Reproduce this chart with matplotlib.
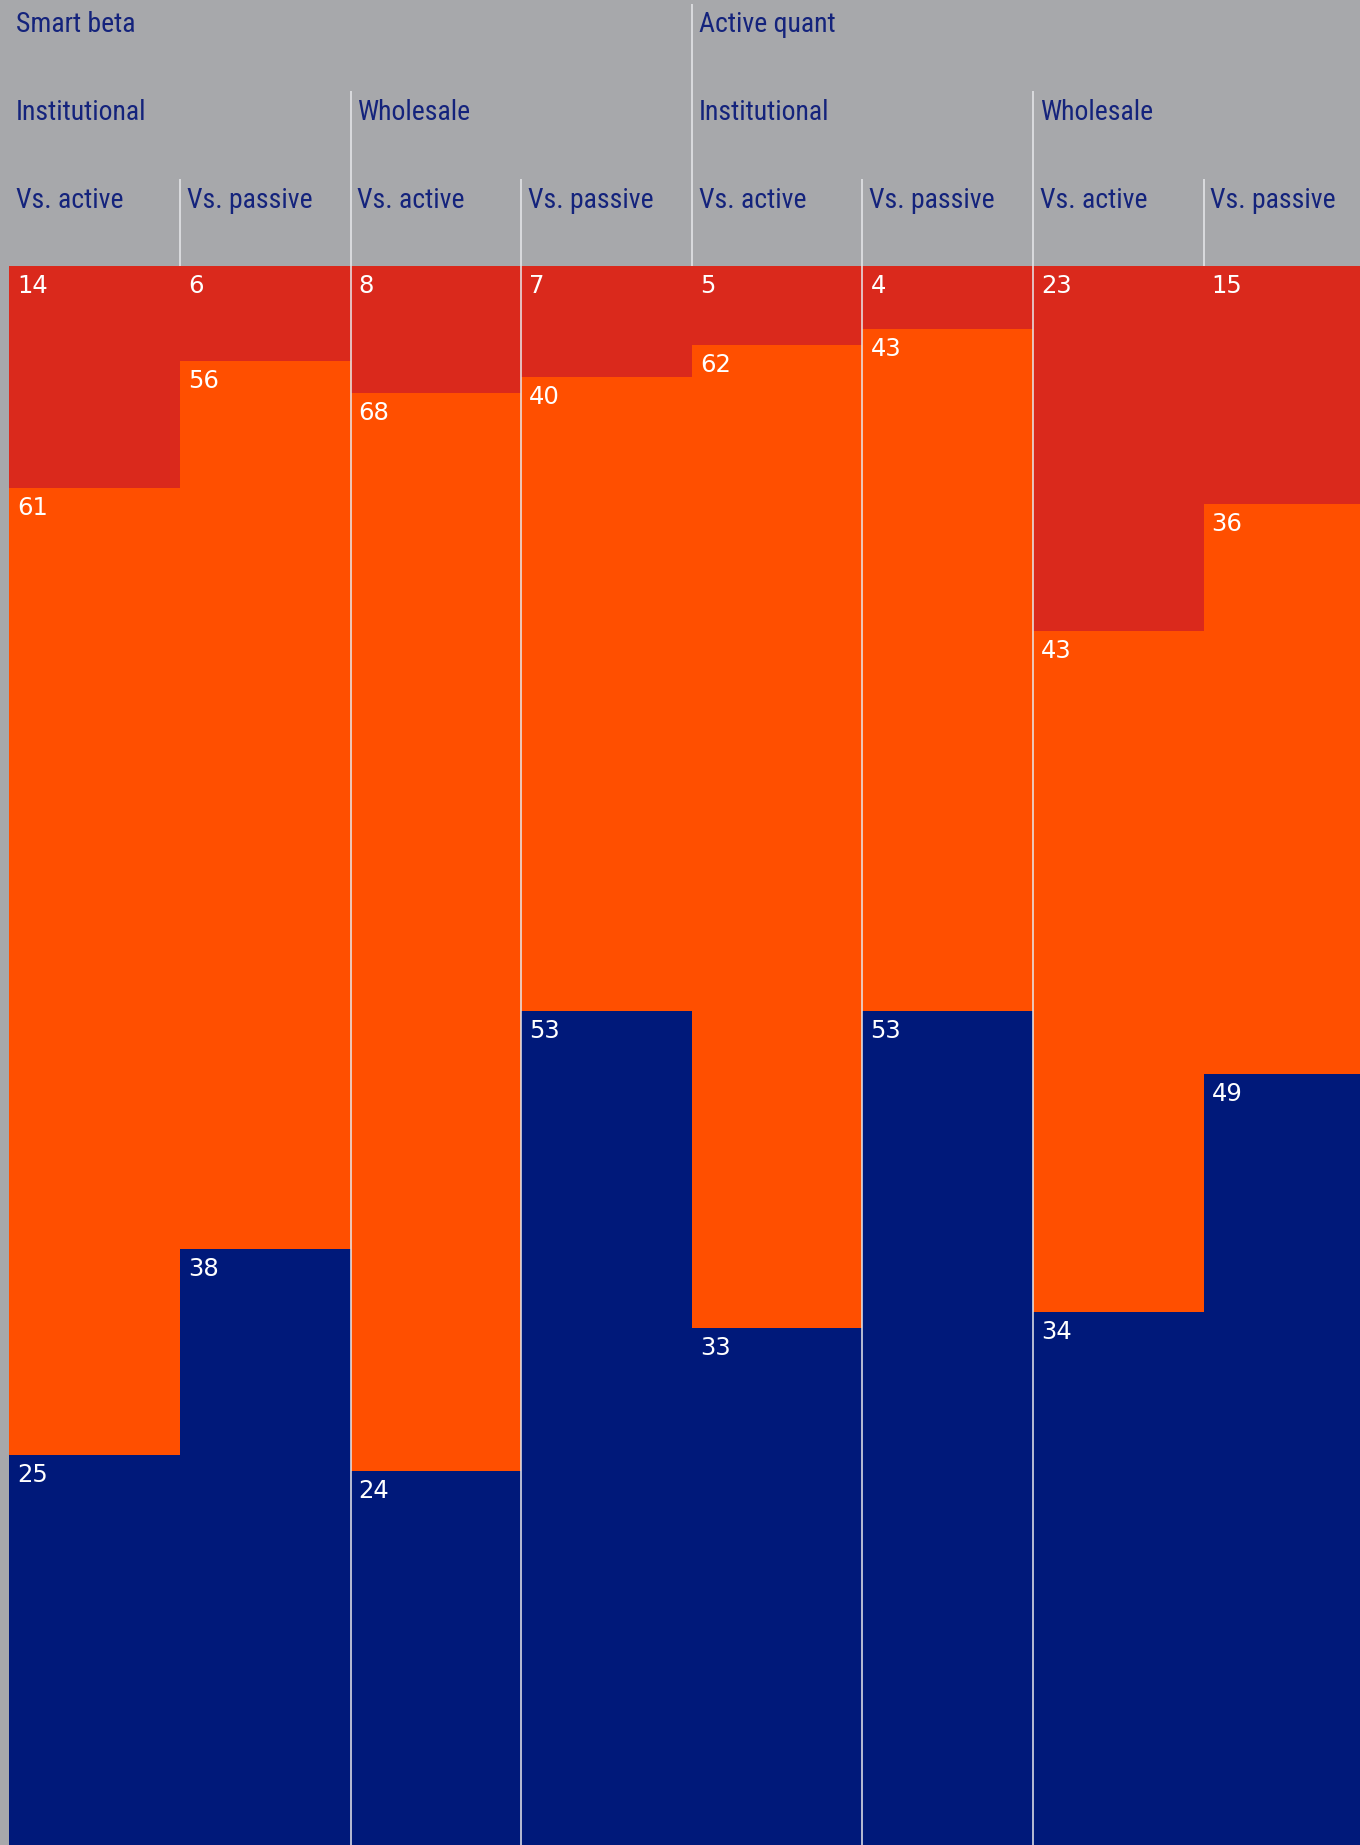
"""Stacked 100% columns: smart beta vs active quant, institutional vs wholesale."""

import matplotlib

matplotlib.use("Agg")
import matplotlib.pyplot as plt

# Data (percent, top to bottom: red, orange, navy)
strategies = ["Smart beta", "Active quant"]
channels = ["Institutional", "Wholesale"]
comparisons = ["Vs. active", "Vs. passive"]
red_vals = [14, 6, 8, 7, 5, 4, 23, 15]
orange_vals = [61, 56, 68, 40, 62, 43, 43, 36]
navy_vals = [25, 38, 24, 53, 33, 53, 34, 49]

GRAY = "#A7A8AB"
RED = "#DA291C"
ORANGE = "#FF4F00"
NAVY = "#00197A"
HEAD = "#14237C"
LINE = "#E8E8EC"

W, H = 1360, 1845
LEFT = 9.4
COL = 170.6
HEADER = 266
FULL = 1585  # pixel height of 100%, bottom slightly cropped

label_font = ["Roboto Condensed", "Liberation Sans Narrow", "DejaVu Sans"]

fig = plt.figure(figsize=(W / 100, H / 100), dpi=100)
fig.patch.set_facecolor(GRAY)

ncols = len(red_vals)
xmax = (W - LEFT) / COL

ax = fig.add_axes([LEFT / W, (H - HEADER - FULL) / H, 1 - LEFT / W, FULL / H])
ax.set_xlim(0, xmax)
ax.set_ylim(100, 0)
ax.axis("off")

xs = list(range(ncols))
ax.bar(xs, red_vals, width=1, align="edge", color=RED, linewidth=0)
ax.bar(xs, orange_vals, bottom=red_vals, width=1, align="edge", color=ORANGE, linewidth=0)
tops = [r + o for r, o in zip(red_vals, orange_vals)]
ax.bar(xs, navy_vals, bottom=tops, width=1, align="edge", color=NAVY, linewidth=0)

for i in xs:
    for start, val in ((0, red_vals[i]), (red_vals[i], orange_vals[i]), (tops[i], navy_vals[i])):
        ax.annotate(
            str(val),
            xy=(i, start),
            xytext=(8, -27),
            textcoords="offset pixels",
            va="baseline",
            ha="left",
            color="white",
            fontsize=17.5,
            family="DejaVu Sans",
        )

# white separators running through the bars
for i in [2, 3, 5, 6]:
    ax.axvline(i, color=LINE, linewidth=1.1, zorder=5)

# header
hx = fig.add_axes([LEFT / W, 1 - HEADER / H, 1 - LEFT / W, HEADER / H])
hx.set_xlim(0, xmax)
hx.set_ylim(HEADER, 0)
hx.axis("off")

for i in range(ncols):
    if i % 4 == 0:
        hx.text(i + 0.04, 32, strategies[i // 4], color=HEAD, fontsize=20,
                family=label_font, va="baseline")
        if i > 0:
            hx.vlines(i, 4, HEADER, color=LINE, linewidth=1.1)
    if i % 2 == 0:
        hx.text(i + 0.04, 120, channels[(i // 2) % 2], color=HEAD, fontsize=20,
                family=label_font, va="baseline")
        if i % 4 == 2:
            hx.vlines(i, 91, HEADER, color=LINE, linewidth=1.1)
    hx.text(i + 0.04, 208, comparisons[i % 2], color=HEAD, fontsize=20,
            family=label_font, va="baseline")
    if i % 2 == 1:
        hx.vlines(i, 179, HEADER, color=LINE, linewidth=1.1)

fig.savefig("out.png", dpi=100, facecolor=fig.get_facecolor())
